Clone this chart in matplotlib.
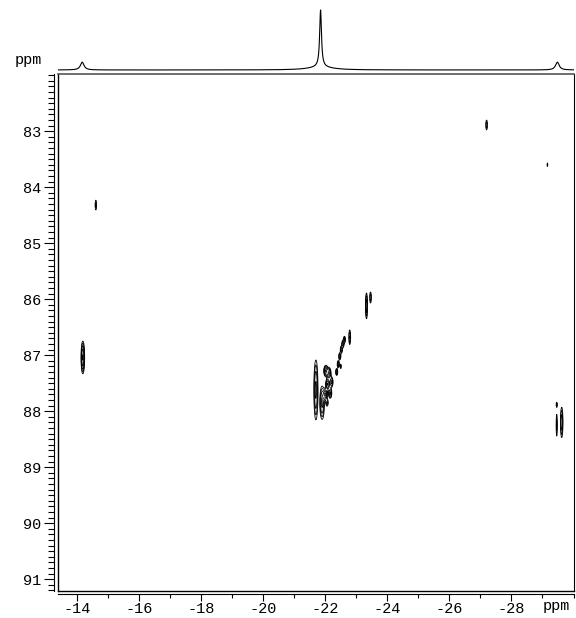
#!/usr/bin/env python3
"""
2D correlation spectrum (contour map) with 1D projection on top.
"""

import numpy as np
import matplotlib
matplotlib.use('Agg')
import matplotlib.pyplot as plt
from matplotlib.ticker import FixedLocator, MultipleLocator
import matplotlib.lines as mlines

plt.rcParams['font.family'] = ['Liberation Mono', 'DejaVu Sans Mono']
plt.rcParams['axes.unicode_minus'] = False

# --- 1D projection (top trace): peak positions (ppm), heights, half-widths
proj_pos = [-14.17, -21.85, -21.85, -29.48]
proj_height = [0.13, 0.95, 0.05, 0.13]
proj_hwhm = [0.07, 0.035, 0.45, 0.07]

# --- 2D cross peaks: f2 (x) ppm, f1 (y) ppm, sigma x, sigma y, amplitude
peak_x = [-14.19, -14.61, -27.20, -29.16, -23.33, -23.46,
          -29.46, -29.46, -29.62,
          -21.70, -21.90,
          -22.02, -22.12, -22.08, -22.00, -22.20, -22.16, -22.06,
          -22.37, -22.42, -22.47, -22.52, -22.57, -22.62, -22.50,
          -22.79]
peak_y = [87.04, 84.32, 82.89, 83.60, 86.12, 85.97,
          87.88, 88.25, 88.20,
          87.62, 87.85,
          87.28, 87.32, 87.52, 87.70, 87.48, 87.68, 87.85,
          87.30, 87.16, 87.02, 86.90, 86.80, 86.72, 87.20,
          86.68]
peak_sx = [0.035, 0.025, 0.025, 0.02, 0.025, 0.025,
           0.02, 0.02, 0.03,
           0.045, 0.05,
           0.04, 0.04, 0.04, 0.04, 0.035, 0.035, 0.03,
           0.025, 0.025, 0.025, 0.025, 0.025, 0.025, 0.02,
           0.025]
peak_sy = [0.175, 0.09, 0.08, 0.05, 0.17, 0.09,
           0.04, 0.2, 0.2,
           0.36, 0.2,
           0.06, 0.06, 0.06, 0.06, 0.06, 0.06, 0.05,
           0.045, 0.045, 0.045, 0.045, 0.045, 0.045, 0.04,
           0.11]
peak_amp = [4.0, 1.6, 1.8, 1.2, 2.5, 1.8,
            1.3, 1.6, 2.5,
            3.0, 3.0,
            4.0, 4.0, 4.0, 4.0, 3.0, 3.0, 2.0,
            2.5, 2.5, 2.5, 2.5, 2.5, 2.2, 1.6,
            2.0]

levels = 1.0 * 1.4 ** np.arange(10)

x_lim = (-13.39, -30.0)
y_lim = (91.21, 81.98)

fig = plt.figure(figsize=(5.76, 6.18), dpi=100)

# main contour axes
ax = fig.add_axes([58 / 576, 27 / 618, 515.5 / 576, 517 / 618])
xg = np.arange(-30.0, -13.3, 0.005)
yg = np.arange(81.9, 91.3, 0.005)
Z = np.zeros((len(yg), len(xg)))
for x0, y0, sx, sy, a in zip(peak_x, peak_y, peak_sx, peak_sy, peak_amp):
    gx = np.exp(-0.5 * ((xg - x0) / sx) ** 2)
    gy = np.exp(-0.5 * ((yg - y0) / sy) ** 2)
    Z += a * np.outer(gy, gx)
ax.contour(xg, yg, Z, levels=levels, colors='black', linewidths=0.6)

ax.set_xlim(*x_lim)
ax.set_ylim(*y_lim)

ax.xaxis.set_major_locator(FixedLocator([-14, -16, -18, -20, -22, -24, -26, -28]))
ax.xaxis.set_minor_locator(MultipleLocator(1))
ax.yaxis.set_major_locator(FixedLocator(list(range(83, 92))))
ax.yaxis.set_minor_locator(MultipleLocator(0.1))
ax.set_xticklabels(['-14', '-16', '-18', '-20', '-22', '-24', '-26', '-28'])
ax.set_yticklabels([str(v) for v in range(83, 92)])

ax.tick_params(axis='both', which='both', direction='out', labelsize=11,
               color='black', width=0.8)
ax.tick_params(axis='x', which='major', length=5, pad=1)
ax.tick_params(axis='x', which='minor', length=3)
ax.tick_params(axis='y', which='major', length=7, pad=2)
ax.tick_params(axis='y', which='minor', length=4)

# detached tick spines + frame
ax.spines['left'].set_position(('outward', 3))
ax.spines['bottom'].set_position(('outward', 2))
for s in ax.spines.values():
    s.set_linewidth(0.8)
ax.add_line(mlines.Line2D([0, 0], [0, 1], transform=ax.transAxes,
                          color='black', lw=1.0, clip_on=False))
ax.add_line(mlines.Line2D([0, 1], [0, 0], transform=ax.transAxes,
                          color='black', lw=1.0, clip_on=False))
ax.spines['top'].set_linewidth(1.2)
ax.spines['top'].set_color('#555555')

# top 1D trace
axt = fig.add_axes([58 / 576, 544 / 618, 515.5 / 576, 69 / 618])
xs = np.linspace(-13.39, -30.0, 4000)
trace = np.zeros_like(xs)
for p, h, w in zip(proj_pos, proj_height, proj_hwhm):
    trace += h / (1 + ((xs - p) / w) ** 2)
axt.plot(xs, trace, color='black', lw=0.8)
axt.set_xlim(*x_lim)
axt.set_ylim(-0.067, 1.083)
axt.axis('off')

fig.text(28 / 576, 1 - 60 / 618, 'ppm', fontsize=11, ha='center', va='center')
fig.text(556 / 576, 1 - 606 / 618, 'ppm', fontsize=11, ha='center', va='center')

plt.savefig('out.png', dpi=100)
